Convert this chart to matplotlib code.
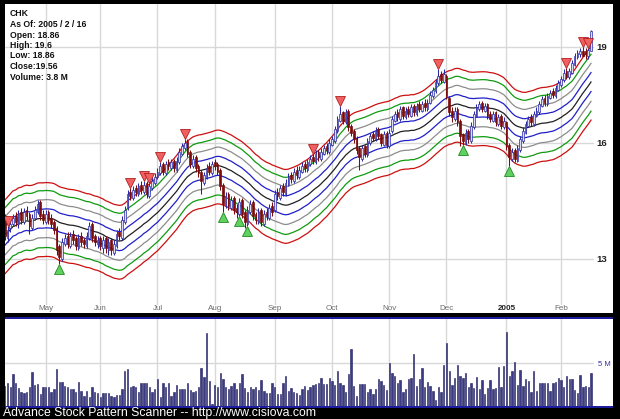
import matplotlib
matplotlib.use('Agg')
import matplotlib.pyplot as plt
import numpy as np
import pandas as pd
from matplotlib.patches import Rectangle
from matplotlib.ticker import NullLocator, FixedLocator, NullFormatter

plt.rcParams['font.family'] = ['Liberation Sans', 'DejaVu Sans']

# ---------------- data (daily bars, 2004-04-12 .. 2005-02-16) ----------------
opens = [14.05,13.50,13.75,13.85,14.05,13.85,14.15,13.90,14.20,14.10,13.75,14.00,14.15,14.40,14.10,
 13.90,14.15,14.00,13.90,13.75,13.30,13.00,13.35,13.55,13.30,13.60,13.50,13.25,13.55,13.45,13.30,13.50,13.85,13.55,13.35,
 13.50,13.25,13.50,13.20,13.45,13.15,13.30,13.65,13.50,13.90,14.25,14.65,14.50,14.75,14.60,14.85,14.65,14.90,14.55,14.75,14.90,
 15.05,15.15,15.40,15.15,15.45,15.30,15.50,15.25,15.45,15.70,15.85,16.05,15.75,15.35,15.60,15.35,15.20,14.90,15.05,15.35,15.15,
 15.45,15.40,15.25,14.85,14.30,14.60,14.25,14.50,14.25,14.10,14.45,14.15,13.85,14.15,14.40,14.10,13.90,14.20,13.85,14.15,14.00,14.30,
 14.20,14.65,14.50,14.80,14.60,14.85,15.10,14.95,15.25,15.05,15.20,15.40,15.25,15.40,15.60,15.45,15.75,15.55,15.70,15.90,15.75,
 15.95,16.05,16.35,16.65,16.90,16.60,16.95,16.50,16.35,16.15,15.85,15.55,15.90,15.65,16.00,16.25,16.10,16.40,16.25,15.95,16.30,
 15.90,16.35,16.65,16.90,16.70,17.05,16.75,17.00,16.80,17.10,16.85,17.15,16.95,17.20,17.00,17.20,17.40,17.55,17.80,18.10,17.85,
 18.05,17.35,16.95,16.70,17.00,16.65,16.25,16.00,16.35,16.05,16.45,16.80,17.00,17.20,16.95,17.15,16.85,16.65,16.90,16.55,16.80,16.45,
 16.60,15.95,15.55,15.80,15.50,15.80,16.05,16.30,16.50,16.75,16.55,16.80,16.90,17.10,17.35,17.15,17.35,17.55,17.40,17.60,
 17.75,17.90,18.20,18.00,18.15,18.40,18.65,18.75,18.85,18.85,18.70,18.86]
highs = [14.10,13.80,13.95,14.10,14.15,14.20,14.25,14.25,14.30,14.15,14.10,14.30,14.45,14.45,14.20,
 14.20,14.20,14.10,13.95,13.80,13.35,13.50,13.60,13.65,13.65,13.70,13.55,13.60,13.65,13.50,13.65,13.90,13.90,13.60,13.55,
 13.55,13.55,13.55,13.50,13.50,13.45,13.70,13.75,14.05,14.30,14.70,14.75,14.80,14.85,14.90,14.95,14.95,14.95,14.90,15.05,15.15,
 15.30,15.45,15.45,15.50,15.55,15.55,15.55,15.60,15.85,16.00,16.10,16.10,15.80,15.65,15.65,15.40,15.25,15.20,15.40,15.45,15.50,
 15.55,15.45,15.30,14.90,14.65,14.65,14.55,14.55,14.35,14.50,14.50,14.20,14.30,14.45,14.45,14.15,14.25,14.25,14.20,14.25,14.35,14.40,
 14.70,14.75,14.85,14.90,15.00,15.15,15.20,15.30,15.35,15.35,15.45,15.50,15.55,15.65,15.70,15.80,15.80,15.85,15.95,16.00,16.10,
 16.20,16.50,16.80,17.10,16.95,17.00,17.00,16.55,16.40,16.20,15.90,15.95,15.95,16.15,16.30,16.35,16.45,16.45,16.30,16.35,16.35,
 16.40,16.80,16.95,17.00,17.10,17.10,17.05,17.10,17.15,17.15,17.20,17.25,17.25,17.30,17.30,17.55,17.70,17.95,18.25,18.20,18.25,
 18.10,17.40,17.05,17.05,17.05,16.70,16.30,16.40,16.40,16.60,16.95,17.15,17.25,17.25,17.20,17.20,16.95,16.95,16.95,16.85,16.85,16.75,
 16.65,16.00,15.85,15.85,15.95,16.20,16.45,16.65,16.80,16.85,16.95,17.05,17.25,17.40,17.45,17.50,17.60,17.65,17.75,17.90,
 18.05,18.25,18.30,18.30,18.55,18.80,18.90,18.95,19.00,18.95,18.98,19.60]
lows = [13.45,13.40,13.65,13.80,13.80,13.75,13.85,13.85,13.95,13.60,13.70,13.95,14.10,13.95,13.85,
 13.85,13.85,13.75,13.60,13.10,12.88,12.95,13.30,13.25,13.25,13.35,13.20,13.20,13.30,13.25,13.25,13.45,13.40,13.30,13.25,
 13.20,13.15,13.15,13.10,13.10,13.10,13.25,13.45,13.45,13.85,14.20,14.45,14.45,14.55,14.55,14.60,14.60,14.50,14.50,14.70,14.85,
 15.00,15.10,15.10,15.10,15.25,15.25,15.20,15.20,15.40,15.65,15.80,15.60,15.30,15.30,15.20,15.05,14.60,14.85,15.00,15.10,15.10,
 15.25,15.10,14.70,14.15,14.25,14.20,14.20,14.10,14.00,14.05,14.00,13.75,13.80,14.10,13.95,13.85,13.85,13.80,13.80,13.95,13.95,14.05,
 14.15,14.45,14.45,14.55,14.55,14.80,14.90,14.90,15.00,15.00,15.15,15.20,15.20,15.35,15.40,15.40,15.50,15.50,15.65,15.70,15.70,
 15.90,16.00,16.30,16.60,16.55,16.55,16.35,16.20,16.00,15.70,15.25,15.50,15.60,15.60,15.95,16.05,16.05,16.10,15.90,15.90,15.85,
 15.85,16.30,16.60,16.65,16.65,16.70,16.70,16.75,16.75,16.80,16.80,16.90,16.90,16.95,16.95,17.15,17.35,17.50,17.75,17.80,17.80,
 17.30,16.80,16.60,16.65,16.50,15.90,15.95,15.95,16.00,16.00,16.40,16.75,16.95,16.90,16.90,16.70,16.60,16.60,16.50,16.50,16.40,16.40,
 15.80,15.35,15.50,15.45,15.45,15.75,16.00,16.25,16.45,16.50,16.50,16.75,16.85,17.05,17.10,17.10,17.30,17.35,17.35,17.55,
 17.70,17.85,17.95,17.95,18.10,18.35,18.60,18.65,18.70,18.60,18.60,18.86]
closes = [13.55,13.70,13.85,14.00,13.90,14.10,13.95,14.15,14.05,13.80,14.00,14.20,14.35,14.05,13.95,
 14.10,13.95,13.85,13.70,13.20,13.05,13.40,13.50,13.35,13.55,13.45,13.30,13.50,13.40,13.35,13.55,13.80,13.50,13.40,13.45,
 13.30,13.45,13.25,13.40,13.20,13.35,13.60,13.55,13.95,14.20,14.60,14.55,14.70,14.65,14.80,14.70,14.85,14.60,14.80,14.95,15.05,
 15.20,15.35,15.20,15.40,15.35,15.45,15.30,15.50,15.75,15.90,16.00,15.70,15.40,15.55,15.30,15.15,14.95,15.10,15.30,15.20,15.40,
 15.35,15.20,14.80,14.35,14.55,14.30,14.45,14.20,14.15,14.40,14.10,13.90,14.20,14.35,14.05,13.95,14.15,13.90,14.10,14.05,14.25,14.15,
 14.60,14.55,14.75,14.65,14.90,15.05,15.00,15.20,15.10,15.25,15.35,15.30,15.45,15.55,15.50,15.70,15.60,15.75,15.85,15.80,16.00,
 16.10,16.40,16.70,16.85,16.65,16.90,16.45,16.30,16.10,15.80,15.60,15.85,15.70,16.05,16.20,16.15,16.35,16.20,16.00,16.25,15.95,
 16.30,16.70,16.85,16.75,17.00,16.80,16.95,16.85,17.05,16.90,17.10,17.00,17.15,17.05,17.20,17.45,17.60,17.85,18.05,17.90,18.10,
 17.40,16.90,16.75,16.95,16.60,16.20,16.05,16.30,16.10,16.50,16.85,17.05,17.15,17.00,17.10,16.80,16.70,16.85,16.60,16.75,16.50,16.65,
 15.90,15.60,15.75,15.55,15.85,16.10,16.35,16.55,16.70,16.60,16.85,16.95,17.15,17.30,17.20,17.40,17.50,17.45,17.65,17.80,
 17.95,18.15,18.05,18.20,18.45,18.70,18.80,18.85,18.70,18.75,18.90,19.56]
volumes_m = [2.33,2.71,2.17,3.72,2.64,2.05,1.67,1.47,1.67,2.17,3.99,2.44,2.56,1.40,2.17,
 2.25,2.17,1.67,1.98,4.30,2.83,2.79,2.33,2.17,1.94,2.02,1.59,2.79,1.78,1.16,1.78,1.09,2.17,1.67,1.47,
 1.01,1.47,1.55,1.47,1.16,1.09,1.30,1.32,1.98,4.07,4.30,2.25,2.33,2.25,1.67,2.64,2.71,2.71,2.17,1.67,1.94,
 3.10,1.09,2.64,2.25,2.64,1.16,1.67,2.44,1.94,1.94,1.94,2.64,1.86,1.67,1.74,2.17,4.38,3.33,8.45,2.95,0.23,
 2.44,2.25,3.88,3.10,2.25,1.94,2.33,2.64,1.94,2.64,3.72,2.05,1.67,2.25,1.94,2.17,1.86,3.02,1.74,1.55,1.47,2.71,
 2.25,1.40,1.40,2.71,3.49,1.78,2.05,1.67,1.47,1.28,1.94,2.33,
 1.86,2.17,2.44,2.56,2.71,3.22,2.52,2.56,3.22,2.95,2.44,4.07,2.64,2.50,1.59,3.72,6.63,2.33,1.16,2.52,2.52,
 2.56,1.67,1.94,1.40,1.98,3.14,2.95,2.44,1.86,5.04,3.80,3.49,2.64,3.02,1.59,1.94,3.10,3.22,6.01,2.33,
 3.10,4.46,2.25,2.83,2.33,1.74,0.70,2.17,1.67,4.77,7.29,4.07,2.44,3.29,4.77,3.49,3.22,3.88,2.17,2.71,
 2.13,3.33,1.94,3.02,1.40,2.05,3.02,1.98,2.05,4.57,2.17,4.65,8.64,3.53,4.07,5.16,2.44,4.19,2.33,3.10,
 2.95,1.67,4.07,1.78,2.71,2.64,2.71,2.71,1.78,2.71,2.83,3.22,3.02,2.25,3.49,3.10,3.10,1.86,1.47,3.60,
 2.17,2.33,2.25,3.80]

sell_signals = [1, 46, 51, 53, 57, 66, 113, 123, 159, 206, 212, 214]
buy_signals = [20, 80, 86, 89, 168, 185]

month_idx = [15, 35, 56, 77, 99, 120, 141, 162, 184, 204]
month_labels = ['May', 'Jun', 'Jul', 'Aug', 'Sep', 'Oct', 'Nov', 'Dec', '2005', 'Feb']
price_ticks = [13, 16, 19]
price_tick_labels = ['13', '16', '19']

info_lines = ['CHK', 'As Of: 2005 / 2 / 16', 'Open: 18.86', 'High: 19.6',
              'Low: 18.86', 'Close:19.56', 'Volume: 3.8 M']
footer = 'Advance Stock Pattern Scanner -- http://www.cisiova.com'

band_pcts = [0.017, 0.034, 0.051, 0.066]
band_colors = ['#2020c8', '#8c8c8c', '#109a10', '#cc1010']

# ---------------- figure ----------------
W, H = 620, 419
fig = plt.figure(figsize=(W / 100, H / 100), dpi=100, facecolor='black')

def frac(x0, y0, x1, y1):
    return [x0 / W, 1 - y1 / H, (x1 - x0) / W, (y1 - y0) / H]

def rect(x0, y0, x1, y1, color):
    fig.patches.append(Rectangle((x0 / W, 1 - y1 / H), (x1 - x0) / W, (y1 - y0) / H,
                                 transform=fig.transFigure, facecolor=color,
                                 edgecolor='none', zorder=-10))

rect(5, 4, 613, 313, 'white')
rect(5, 319, 613, 406, 'white')
rect(5, 317, 613, 319.3, '#1c1c9c')
rect(5, 405.8, 613, 407.5, '#1c1c9c')

O = np.array(opens); Hh = np.array(highs); L = np.array(lows); C = np.array(closes)
V = np.array(volumes_m)
n = len(C)
x = np.arange(n)
xlim = (0.07, 216.1)

ax = fig.add_axes(frac(5, 4, 594, 313), zorder=5)
ax.set_facecolor('white')
ax.set_yscale('log')
ax.set_xlim(*xlim)
ax.set_ylim(11.80, 20.52)
for s in ax.spines.values():
    s.set_visible(False)
ax.set_axisbelow(True)

# bands (25-day moving average envelope)
mid = pd.Series(C).rolling(25, min_periods=1).mean().values
for p, col in zip(band_pcts, band_colors):
    ax.plot(x, mid * (1 + p), color=col, lw=0.9, zorder=2)
    ax.plot(x, mid * (1 - p), color=col, lw=0.9, zorder=2)
ax.plot(x, mid, color='#202020', lw=0.9, zorder=2)

# candles
up = C >= O
dn = ~up
upc, dnc = '#2a2aa8', '#7a0c0c'
ax.vlines(x[up], L[up], Hh[up], color=upc, lw=0.75, zorder=3)
ax.vlines(x[dn], L[dn], Hh[dn], color=dnc, lw=0.75, zorder=3)
ax.bar(x[up], np.maximum(C[up] - O[up], 0.03), bottom=O[up], width=0.62,
       facecolor='#dcdcf6', edgecolor=upc, lw=0.5, zorder=4)
ax.bar(x[dn], np.maximum(O[dn] - C[dn], 0.03), bottom=C[dn], width=0.62,
       facecolor=dnc, edgecolor=dnc, lw=0.5, zorder=4)

# signals
si = np.array(sell_signals); bi = np.array(buy_signals)
ax.plot(si, Hh[si] * 1.009, 'v', ms=6.5, mfc='#f06060', mec='#b02020', mew=0.6, zorder=5, ls='none')
ax.plot(bi, L[bi] / 1.009, '^', ms=6.5, mfc='#60d060', mec='#208a20', mew=0.6, zorder=5, ls='none')

# axes ticks / grid
ax.yaxis.tick_right()
ax.yaxis.set_major_locator(FixedLocator(price_ticks))
ax.yaxis.set_minor_locator(NullLocator())
ax.yaxis.set_minor_formatter(NullFormatter())
ax.set_yticklabels(price_tick_labels, fontsize=6.8, fontweight='bold', color='#202020')
ax.set_xticks(month_idx)
ax.set_xticklabels(month_labels, fontsize=5.8, color='#6a6a6a')
ax.tick_params(axis='y', length=0, pad=2)
ax.tick_params(axis='x', length=0, pad=-5.5)
for lbl in ax.get_xticklabels():
    lbl.set_bbox(dict(facecolor='white', edgecolor='none', pad=0.6))
    if lbl.get_text() == '2005':
        lbl.set_fontweight('bold')
        lbl.set_color('#202020')
ax.grid(True, color='#d8d8d8', lw=1.0)

# info text
for i, t in enumerate(info_lines):
    fig.text(10 / W, 1 - (14 + i * 10.5) / H, t, fontsize=6.2, color='#101010',
             fontweight='bold', va='center', ha='left', zorder=10)

# volume panel
ax2 = fig.add_axes(frac(5, 319, 594, 406), zorder=5)
ax2.set_facecolor('white')
ax2.set_xlim(*xlim)
ax2.set_ylim(0, 10.12)
for s in ax2.spines.values():
    s.set_visible(False)
ax2.set_axisbelow(True)
ax2.bar(x, V, width=0.5, facecolor='#3a3a86', edgecolor='#1e1e5e', lw=0.4, zorder=3)
ax2.set_xticks(month_idx)
ax2.set_xticklabels([])
ax2.yaxis.tick_right()
ax2.set_yticks([5])
ax2.set_yticklabels(['5 M'], fontsize=5.5, color='#3030a0')
ax2.tick_params(length=0, pad=3)
ax2.grid(True, color='#d8d8d8', lw=1.0)

fig.text(3 / W, 1 - 412.5 / H, footer, fontsize=8.8, color='white', va='center', ha='left')

fig.savefig('out.png', dpi=100, facecolor='black')
